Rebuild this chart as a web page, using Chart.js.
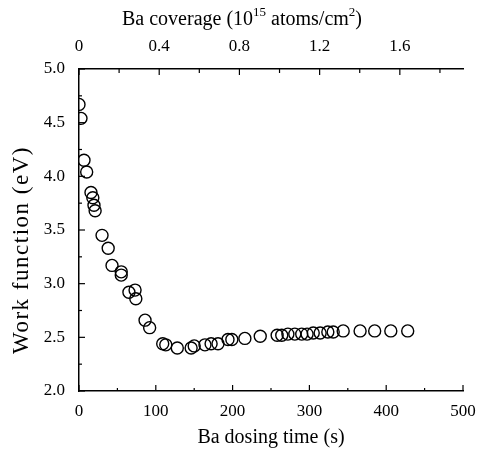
<!DOCTYPE html>
<html>
<head>
<meta charset="utf-8">
<script src="https://cdn.jsdelivr.net/npm/chart.js@4/dist/chart.umd.min.js"></script>
<style>
  body { margin: 0; background: #fff; }
  canvas { display: block; }
</style>
</head>
<body>
<canvas id="wfChart" width="477" height="450"></canvas>
<script>
// Ba dosing time (s) vs work function (eV)
const dosingTime = [0, 2.6, 6.5, 10, 15.6, 18, 19.5, 21, 30, 38, 43, 55, 55, 65, 73, 74, 86, 92,
  109, 113, 128, 146, 150, 164, 172, 181, 194, 199, 216, 236, 258, 264, 272, 281, 290, 297,
  305, 314, 324, 331, 344, 366, 385, 406, 428];
const workFunction = [4.67, 4.54, 4.15, 4.04, 3.85, 3.80, 3.73, 3.68, 3.45, 3.33, 3.17, 3.11, 3.08,
  2.92, 2.94, 2.86, 2.66, 2.59, 2.44, 2.43, 2.40, 2.40, 2.42, 2.43, 2.44, 2.44, 2.48, 2.48,
  2.49, 2.51, 2.52, 2.52, 2.53, 2.53, 2.53, 2.53, 2.54, 2.54, 2.55, 2.55, 2.56, 2.56, 2.56,
  2.56, 2.56];

const timeTicks = [0, 100, 200, 300, 400, 500];
const wfTicks = [2.0, 2.5, 3.0, 3.5, 4.0, 4.5, 5.0];
const coverageTicks = [0, 0.4, 0.8, 1.2, 1.6];
const coverageMax = 1.915; // top axis end, lines up with 500 s

const serif = "'Liberation Serif', 'DejaVu Serif', serif";

function midpoints(arr) {
  const out = [];
  for (let i = 0; i < arr.length - 1; i++) out.push((arr[i] + arr[i + 1]) / 2);
  return out;
}

// ticks point into the plot, with shorter minor ticks in between
const inwardTicks = {
  id: "inwardTicks",
  afterDraw(chart) {
    const { ctx, chartArea, scales } = chart;
    ctx.save();
    ctx.strokeStyle = "#000";
    ctx.lineWidth = 1.2;
    const line = (x1, y1, x2, y2) => {
      ctx.beginPath();
      ctx.moveTo(x1, y1);
      ctx.lineTo(x2, y2);
      ctx.stroke();
    };
    const xMinor = midpoints(timeTicks);
    timeTicks.concat(xMinor).forEach((v) => {
      const px = scales.x.getPixelForValue(v);
      const len = xMinor.includes(v) ? 3 : 6;
      line(px, chartArea.bottom, px, chartArea.bottom - len);
    });
    const yMinor = midpoints(wfTicks);
    wfTicks.concat(yMinor).forEach((v) => {
      const py = scales.y.getPixelForValue(v);
      const len = yMinor.includes(v) ? 3 : 6;
      line(chartArea.left, py, chartArea.left + len, py);
    });
    const cMinor = midpoints(coverageTicks).concat([1.8]);
    coverageTicks.concat(cMinor).forEach((v) => {
      const px = scales.x2.getPixelForValue(v);
      const len = cMinor.includes(v) ? 4 : 6;
      line(px, chartArea.top, px, chartArea.top + len);
    });
    ctx.restore();
  },
};

// top title with real superscripts, and the spaced-out y title
const axisTitles = {
  id: "axisTitles",
  afterDraw(chart) {
    const { ctx } = chart;
    ctx.save();
    ctx.fillStyle = "#000";
    ctx.textBaseline = "alphabetic";
    const parts = [
      ["Ba coverage (10", 20, 0],
      ["15", 13, -9],
      [" atoms/cm", 20, 0],
      ["2", 13, -9],
      [")", 20, 0],
    ];
    let total = 0;
    parts.forEach((p) => {
      ctx.font = p[1] + "px " + serif;
      total += ctx.measureText(p[0]).width;
    });
    let x = 242 - total / 2;
    ctx.textAlign = "left";
    parts.forEach((p) => {
      ctx.font = p[1] + "px " + serif;
      ctx.fillText(p[0], x, 25 + p[2]);
      x += ctx.measureText(p[0]).width;
    });

    ctx.translate(22, 250);
    ctx.rotate(-Math.PI / 2);
    ctx.font = "23px " + serif;
    ctx.letterSpacing = "1.5px";
    ctx.textAlign = "center";
    ctx.textBaseline = "middle";
    ctx.fillText("Work function (eV)", 0, 0);
    ctx.restore();
  },
};

const border = { display: true, color: "#000", width: 1.5 };
const noGrid = { display: false, drawTicks: false };

new Chart(document.getElementById("wfChart"), {
  type: "scatter",
  data: {
    datasets: [
      {
        data: dosingTime.map((t, i) => ({ x: t, y: workFunction[i] })),
        pointStyle: "circle",
        pointRadius: 6,
        pointBorderWidth: 1.4,
        pointBorderColor: "#000",
        pointBackgroundColor: "rgba(0,0,0,0)",
        showLine: false,
      },
    ],
  },
  options: {
    responsive: false,
    animation: false,
    layout: { padding: { left: 0, right: 14, top: 0, bottom: 0 } },
    plugins: { legend: { display: false }, tooltip: { enabled: false } },
    scales: {
      x: {
        type: "linear",
        position: "bottom",
        min: 0,
        max: 500,
        grid: noGrid,
        border,
        afterBuildTicks: (s) => { s.ticks = timeTicks.map((v) => ({ value: v })); },
        afterFit: (s) => { s.height = 59; s.paddingLeft = 0; s.paddingRight = 0; },
        ticks: { color: "#000", font: { family: serif, size: 17 }, padding: 10, maxRotation: 0 },
        title: {
          display: true,
          text: "Ba dosing time (s)",
          color: "#000",
          font: { family: serif, size: 20 },
          padding: { top: 0, bottom: 0 },
        },
      },
      y: {
        type: "linear",
        position: "left",
        min: 2,
        max: 5,
        grid: noGrid,
        border,
        afterBuildTicks: (s) => { s.ticks = wfTicks.map((v) => ({ value: v })); },
        afterFit: (s) => { s.width = 79; s.paddingTop = 0; s.paddingBottom = 0; },
        ticks: {
          color: "#000",
          font: { family: serif, size: 17 },
          padding: 14,
          callback: (v) => Number(v).toFixed(1),
        },
        title: { display: false },
      },
      x2: {
        type: "linear",
        position: "top",
        min: 0,
        max: coverageMax,
        grid: noGrid,
        border,
        afterBuildTicks: (s) => { s.ticks = coverageTicks.map((v) => ({ value: v })); },
        afterFit: (s) => { s.height = 69; s.paddingLeft = 0; s.paddingRight = 0; },
        ticks: {
          color: "#000",
          font: { family: serif, size: 17 },
          padding: 12,
          maxRotation: 0,
          callback: (v) => (v === 0 ? "0" : Number(v).toFixed(1)),
        },
        title: { display: false },
      },
    },
  },
  plugins: [inwardTicks, axisTitles],
});
</script>
</body>
</html>
